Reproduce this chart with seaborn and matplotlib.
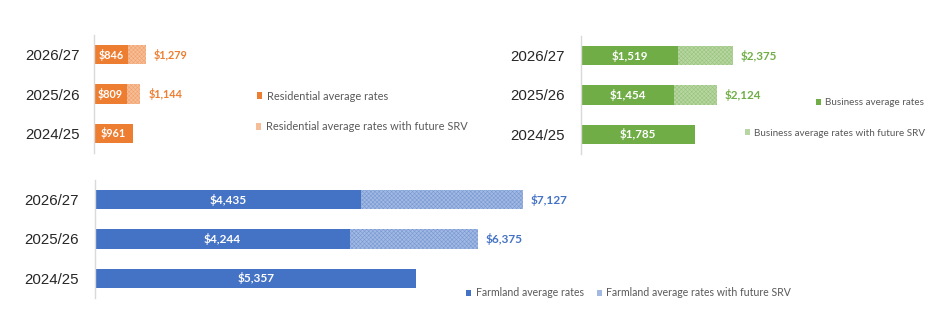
import numpy as np
import pandas as pd
import matplotlib
matplotlib.use("Agg")
import matplotlib.pyplot as plt
from matplotlib.patches import Patch
from matplotlib.colors import to_rgb
import seaborn as sns

# ---------------- data ----------------
years = ["2026/27", "2025/26", "2024/25"]

res_base = [846, 809, 961]
res_srv_years = ["2026/27", "2025/26"]
res_srv = [1279, 1144]

bus_base = [1519, 1454, 1785]
bus_srv_years = ["2026/27", "2025/26"]
bus_srv = [2375, 2124]

farm_base = [4435, 4244, 5357]
farm_srv_years = ["2026/27", "2025/26"]
farm_srv = [7127, 6375]

res_labels = ["Residential average rates", "Residential average rates with future SRV"]
bus_labels = ["Business average rates", "Business average rates with future SRV"]
farm_labels = ["Farmland average rates", "Farmland average rates with future SRV"]

ORANGE = "#ED7D31"
GREEN = "#70AD47"
BLUE = "#4472C4"

# ---------------- style ----------------
sns.set_theme(style="white")
plt.rcParams["font.family"] = ["Lato", "DejaVu Sans"]
plt.rcParams["hatch.linewidth"] = 0.4

W, H = 949, 325
fig = plt.figure(figsize=(W / 100, H / 100), dpi=100)


def tint(c, f):
    r, g, b = to_rgb(c)
    return (1 - f * (1 - r), 1 - f * (1 - g), 1 - f * (1 - b))


def px_axes(left, top, width, bottom):
    return fig.add_axes([left / W, 1 - bottom / H, width / W, (bottom - top) / H])


def panel(ax, base, srv_years, srv, color, scale_px, width_px, pad, fs_lab):
    light = tint(color, 0.5)
    df_srv = pd.DataFrame({"year": srv_years, "value": srv})
    df_base = pd.DataFrame({"year": years, "value": base})
    sns.barplot(data=df_srv, x="value", y="year", order=years, orient="h",
                color=light, width=0.49, ax=ax, saturation=1)
    sns.barplot(data=df_base, x="value", y="year", order=years, orient="h",
                color=color, width=0.49, ax=ax, saturation=1)
    for p in ax.containers[0]:
        p.set_facecolor(tint(color, 0.5))
        p.set_hatch("xxxxxxxx")
        p.set_edgecolor(tint(color, 0.72))
        p.set_linewidth(0)
    for p in ax.containers[1]:
        p.set_linewidth(0)
    ax.set_xlim(0, width_px / scale_px)
    ax.set_ylim(2.5, -0.5)
    ax.set_xlabel("")
    ax.set_ylabel("")
    ax.set_xticks([])
    for s in ["top", "right", "bottom"]:
        ax.spines[s].set_visible(False)
    ax.spines["left"].set_color("#D9D9D9")
    ax.spines["left"].set_linewidth(1)
    ax.tick_params(axis="y", length=0, pad=pad, labelsize=10.8, labelcolor="#262626")
    for t in ax.get_yticklabels():
        t.set_fontfamily(["Liberation Sans", "DejaVu Sans"])
    # labels
    for i, v in enumerate(base):
        ax.text(v / 2, i, f"${v:,}", ha="center", va="center", color="white",
                fontsize=fs_lab, fontweight="bold")
    for y, v in zip(srv_years, srv):
        i = years.index(y)
        ax.annotate(f"${v:,}", (v, i), xytext=(5.8, 0), textcoords="offset points",
                    ha="left", va="center", color=color, fontsize=fs_lab,
                    fontweight="bold")
    return light


def leg(x, y, color, label, fs, hatched=False):
    if hatched:
        h = Patch(facecolor=tint(color, 0.5), edgecolor="none", linewidth=0)
    else:
        h = Patch(facecolor=color, edgecolor="none", linewidth=0)
    fig.legend(handles=[h], labels=[label], loc="center left",
               bbox_to_anchor=(x / W, 1 - y / H), frameon=False,
               handlelength=0.5, handleheight=0.5, handletextpad=0.4,
               borderpad=0, borderaxespad=0, fontsize=fs, labelcolor="#595959")


ax1 = px_axes(94, 35, 160, 153)
panel(ax1, res_base, res_srv_years, res_srv, ORANGE, 0.0405, 160, 10, 7.8)
leg(257, 96, ORANGE, res_labels[0], 7.9)
leg(256, 127, ORANGE, res_labels[1], 7.9, hatched=True)

ax2 = px_axes(581, 36, 180, 154)
panel(ax2, bus_base, bus_srv_years, bus_srv, GREEN, 0.064, 180, 11.5, 8.4)
leg(816, 103, GREEN, bus_labels[0], 7.1)
leg(745, 133, GREEN, bus_labels[1], 7.1, hatched=True)

ax3 = px_axes(95, 180, 500, 298)
panel(ax3, farm_base, farm_srv_years, farm_srv, BLUE, 0.06, 500, 11.5, 8.6)
leg(466, 293, BLUE, farm_labels[0], 7.6)
leg(597, 293, BLUE, farm_labels[1], 7.6, hatched=True)

fig.savefig("out.png", dpi=100, facecolor="white")
